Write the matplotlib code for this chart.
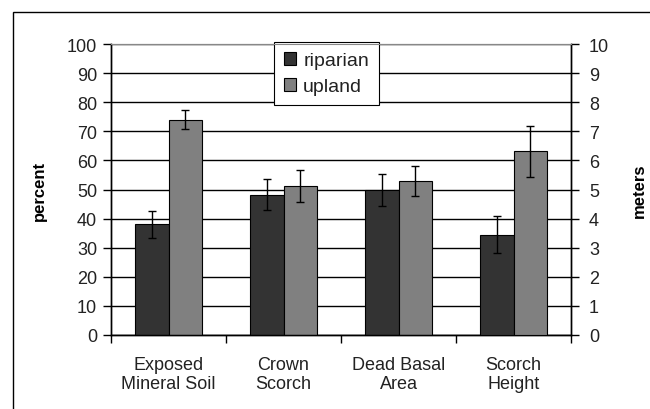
import numpy as np
import matplotlib
matplotlib.use("Agg")
import matplotlib.pyplot as plt
from matplotlib.patches import Rectangle

plt.rcParams["font.family"] = ["Liberation Sans", "DejaVu Sans"]

# data
categories = ["Exposed\nMineral Soil", "Crown\nScorch", "Dead Basal\nArea", "Scorch\nHeight"]
# percent categories (left axis)
riparian_pct = [38.0, 48.2, 49.8]
riparian_pct_err = [4.6, 5.4, 5.5]
upland_pct = [74.0, 51.2, 52.9]
upland_pct_err = [3.3, 5.5, 5.1]
# scorch height in meters (right axis)
riparian_m = [3.45]
riparian_m_err = [0.64]
upland_m = [6.31]
upland_m_err = [0.87]

dark = "#333333"
light = "#808080"
txt = "#222222"
width = 0.29

fig = plt.figure(figsize=(6.5, 4.1), dpi=100)
ax = fig.add_axes([111/650, 1-336/410, 460/650, 291/410])
ax2 = ax.twinx()

x = np.arange(len(categories))
xp = x[:3]
xm = x[3:]

ekw = dict(elinewidth=1, capthick=1)
ax.bar(xp - width/2, riparian_pct, width, color=dark, edgecolor="black", linewidth=0.8,
       yerr=riparian_pct_err, capsize=3, error_kw=ekw, zorder=3, label="riparian")
ax.bar(xp + width/2, upland_pct, width, color=light, edgecolor="black", linewidth=0.8,
       yerr=upland_pct_err, capsize=3, error_kw=ekw, zorder=3, label="upland")
ax2.bar(xm - width/2, riparian_m, width, color=dark, edgecolor="black", linewidth=0.8,
        yerr=riparian_m_err, capsize=3, error_kw=ekw, zorder=3)
ax2.bar(xm + width/2, upland_m, width, color=light, edgecolor="black", linewidth=0.8,
        yerr=upland_m_err, capsize=3, error_kw=ekw, zorder=3)

ax.set_xlim(-0.5, len(categories) - 0.5)
ax.set_ylim(0, 100)
ax2.set_ylim(0, 10)
ax.set_yticks(np.arange(0, 101, 10))
ax2.set_yticks(np.arange(0, 11, 1))
ax.yaxis.grid(True, color="black", linewidth=1)
ax.set_axisbelow(True)

ax.set_xticks(x)
ax.set_xticklabels(categories, fontsize=13, color=txt)
ax.set_xticks(np.arange(-0.5, len(categories), 1), minor=True)
ax.tick_params(axis="x", which="major", length=0, pad=15)
ax.tick_params(axis="x", which="minor", length=6, width=1, direction="out")
ax.tick_params(axis="y", length=6, width=1, labelsize=13, pad=4, labelcolor=txt)
ax2.tick_params(axis="y", length=6, width=1, labelsize=13, pad=7, labelcolor=txt)

for a in (ax, ax2):
    a.spines["top"].set_color("#888888")
    a.spines["left"].set_linewidth(1)
    a.spines["right"].set_linewidth(1)
    a.spines["bottom"].set_linewidth(1)

ax.set_ylabel("percent", fontsize=12, fontweight="bold", labelpad=14)
ax2.set_ylabel("meters", fontsize=12, fontweight="bold", labelpad=16)

leg = ax.legend(loc="upper left", bbox_to_anchor=(274/650, 1-43/410), bbox_transform=fig.transFigure,
                fontsize=14, fancybox=False, framealpha=1, edgecolor="black",
                handlelength=0.65, handleheight=0.65, handletextpad=0.35, borderpad=0.5,
                labelspacing=0.45, borderaxespad=0)
leg.get_frame().set_linewidth(0.8)
for t in leg.get_texts():
    t.set_color(txt)
leg.set_zorder(10)

# outer chart border (only top/left visible in the crop)
fig.patches.append(Rectangle((13/650, -0.1), 1.1, 1.1 - 13/410, transform=fig.transFigure,
                             fill=False, edgecolor="black", linewidth=1))

fig.savefig("out.png", dpi=100)
